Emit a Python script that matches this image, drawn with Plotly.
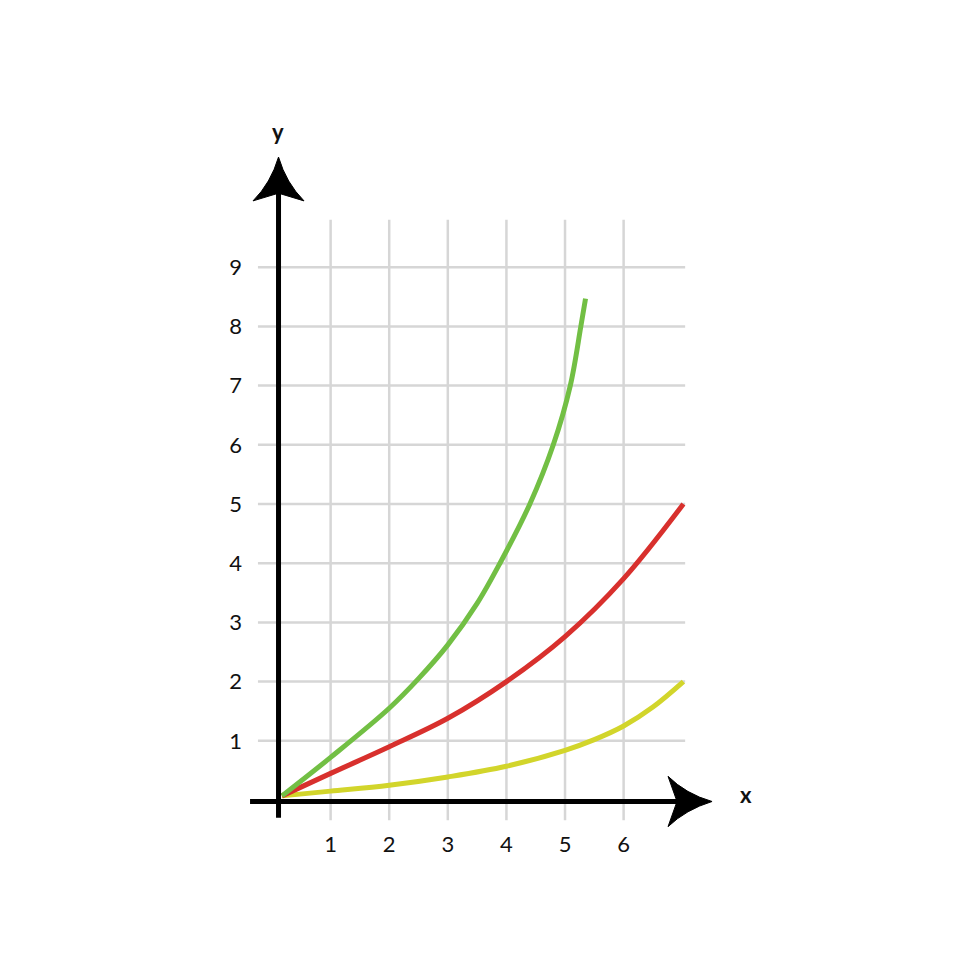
import plotly.graph_objects as go

# tick values on both axes
x_ticks = [1, 2, 3, 4, 5, 6]
y_ticks = [1, 2, 3, 4, 5, 6, 7, 8, 9]

# curves
green_x = [0.17, 1, 2, 2.5, 3, 3.5, 3.89, 4.40, 4.80, 5.09, 5.27, 5.35]
green_y = [0.07, 0.72, 1.55, 2.05, 2.62, 3.32, 4.0, 5.0, 6.0, 7.0, 8.0, 8.47]
red_x = [0.17, 1, 2, 3, 4, 5, 6, 7.02]
red_y = [0.07, 0.45, 0.9, 1.38, 2.0, 2.76, 3.74, 5.0]
yellow_x = [0.17, 1, 2, 3, 4, 5, 5.5, 6, 6.5, 7.02]
yellow_y = [0.07, 0.15, 0.25, 0.39, 0.57, 0.84, 1.02, 1.25, 1.57, 2.0]

FONT = "Lato"
GRID = "#d6d6d6"

fig = go.Figure()

for xs, ys, col in [(yellow_x, yellow_y, "#d2d52b"),
                    (red_x, red_y, "#d8302d"),
                    (green_x, green_y, "#72bf44")]:
    fig.add_trace(go.Scatter(x=xs, y=ys, mode="lines",
                             line=dict(color=col, width=5, shape="spline", smoothing=1.0),
                             hoverinfo="skip", showlegend=False))

shapes = []
# grid
for v in x_ticks:
    shapes.append(dict(type="line", x0=v, x1=v, y0=-0.34, y1=9.8, layer="below",
                       line=dict(color=GRID, width=2.5)))
for v in y_ticks:
    shapes.append(dict(type="line", x0=-0.24, x1=7.05, y0=v, y1=v, layer="below",
                       line=dict(color=GRID, width=2.5)))

# axis lines (y axis drawn slightly right of zero, like the original)
ax_x = 0.111
ax_y = -0.025
shapes.append(dict(type="line", x0=ax_x, x1=ax_x, y0=-0.3, y1=10.3, line=dict(color="black", width=5)))
shapes.append(dict(type="line", x0=-0.375, x1=7.0, y0=ax_y, y1=ax_y, line=dict(color="black", width=5)))

# arrowheads
shapes.append(dict(type="path",
                   path=f"M {ax_x},10.86 Q -0.02,10.42 -0.324,10.12 L {ax_x},10.25 L 0.546,10.12 Q 0.242,10.42 {ax_x},10.86 Z",
                   fillcolor="black", line=dict(color="black", width=1)))
shapes.append(dict(type="path",
                   path=f"M 7.509,{ax_y} Q 7.065,0.10 6.758,0.40 L 6.911,{ax_y} L 6.758,-0.45 Q 7.065,-0.16 7.509,{ax_y} Z",
                   fillcolor="black", line=dict(color="black", width=1)))

fig.update_layout(
    width=980, height=980,
    margin=dict(l=237, r=263, t=137, b=153),
    paper_bgcolor="white", plot_bgcolor="white",
    shapes=shapes,
    font=dict(family=FONT, size=22, color="#111"),
    xaxis=dict(range=[-0.461, 7.730], showgrid=False, zeroline=False, showline=False,
               tickvals=x_ticks, ticks="", ticklabelstandoff=-6, fixedrange=True),
    yaxis=dict(range=[-0.591, 11.064], showgrid=False, zeroline=False, showline=False,
               tickvals=y_ticks, ticks="", ticklabelstandoff=2, fixedrange=True),
    annotations=[
        dict(x=0.069, y=1.020, xref="paper", yref="paper", text="<b>y</b>", showarrow=False,
             xanchor="center", yanchor="middle",
             font=dict(family=FONT, size=22, color="#111")),
        dict(x=1.044, y=0.058, xref="paper", yref="paper", text="<b>x</b>", showarrow=False,
             xanchor="center", yanchor="middle",
             font=dict(family=FONT, size=22, color="#111")),
    ],
)

fig.write_html("out.html")
